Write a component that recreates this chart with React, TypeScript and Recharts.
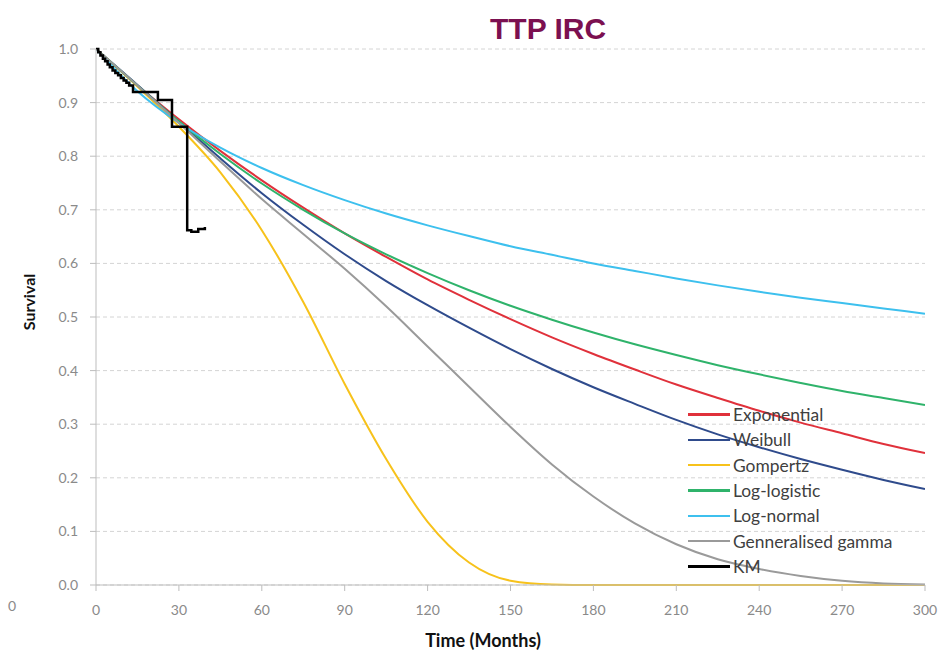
import React from 'react';
import { LineChart, Line, XAxis, YAxis, CartesianGrid } from 'recharts';

// months sampled for the fitted curves
const months = [0, 15, 30, 45, 60, 75, 90, 105, 120, 135, 150, 165, 180, 195, 210, 225, 240, 255, 270, 285, 300];

const exponential = [1, 0.932, 0.869, 0.81, 0.755, 0.704, 0.656, 0.612, 0.57, 0.532, 0.496, 0.462, 0.431, 0.402, 0.374, 0.349, 0.325, 0.303, 0.283, 0.263, 0.246];
const weibull = [1, 0.933, 0.864, 0.796, 0.731, 0.672, 0.617, 0.567, 0.522, 0.48, 0.44, 0.403, 0.369, 0.338, 0.308, 0.281, 0.257, 0.235, 0.215, 0.196, 0.179];
const gompertz = [1, 0.93, 0.855, 0.77, 0.662, 0.528, 0.375, 0.235, 0.118, 0.042, 0.008, 0.001, 0, 0, 0, 0, 0, 0, 0, 0, 0];
const logLogistic = [1, 0.932, 0.865, 0.804, 0.749, 0.7, 0.656, 0.617, 0.582, 0.55, 0.521, 0.495, 0.471, 0.449, 0.429, 0.41, 0.393, 0.377, 0.362, 0.349, 0.336];
const logNormal = [1, 0.921, 0.862, 0.816, 0.778, 0.746, 0.718, 0.693, 0.671, 0.651, 0.632, 0.616, 0.6, 0.586, 0.572, 0.559, 0.547, 0.536, 0.526, 0.516, 0.506];
const genGamma = [1, 0.932, 0.862, 0.79, 0.72, 0.655, 0.59, 0.52, 0.445, 0.37, 0.295, 0.225, 0.165, 0.115, 0.076, 0.048, 0.03, 0.017, 0.008, 0.003, 0.001];

// Kaplan-Meier steps
const kmTime = [0, 0.8, 1.6, 2.5, 3.3, 4.2, 5, 6, 7, 8, 9, 10, 11, 12, 13.4, 22.4, 27.5, 33, 34.5, 37, 39.4];
const kmSurv = [1, 0.994, 0.988, 0.982, 0.977, 0.971, 0.966, 0.96, 0.955, 0.951, 0.946, 0.941, 0.937, 0.932, 0.92, 0.905, 0.855, 0.662, 0.659, 0.664, 0.668];

const xTicks = [0, 30, 60, 90, 120, 150, 180, 210, 240, 270, 300];
const yTicks = [0, 0.1, 0.2, 0.3, 0.4, 0.5, 0.6, 0.7, 0.8, 0.9, 1.0];

const series = [
  { key: 'exp', name: 'Exponential', color: '#e0313b', values: exponential },
  { key: 'wei', name: 'Weibull', color: '#2f4b8c', values: weibull },
  { key: 'gom', name: 'Gompertz', color: '#f7c21b', values: gompertz },
  { key: 'llog', name: 'Log-logistic', color: '#2fb36b', values: logLogistic },
  { key: 'lnorm', name: 'Log-normal', color: '#3dc0ee', values: logNormal },
  { key: 'gg', name: 'Genneralised gamma', color: '#9a9a9a', values: genGamma },
];

const curveData = months.map((t, i) => {
  const row: Record<string, number> = { t };
  series.forEach(s => { row[s.key] = s.values[i]; });
  return row;
});
const kmData = kmTime.map((t, i) => ({ t, km: kmSurv[i] }));

const legendItems = [...series.map(s => ({ name: s.name, color: s.color })), { name: 'KM', color: '#000000' }];

const tickStyle = { fill: '#8a8a8a', fontSize: 14, fontFamily: 'Lato' };

export default function App() {
  return (
    <div style={{ position: 'absolute', left: 0, top: 0, width: 941, height: 653, background: '#fff', fontFamily: 'Lato' }}>
      <LineChart width={941} height={653} data={curveData} margin={{ top: 49, right: 16, left: 36, bottom: 38 }}>
        <CartesianGrid vertical={false} stroke="#d4d4d4" strokeDasharray="4 3" />
        <XAxis
          dataKey="t"
          type="number"
          domain={[0, 300]}
          ticks={xTicks}
          height={30}
          tick={tickStyle}
          tickSize={6}
          tickMargin={14}
          stroke="#bdbdbd"
          allowDataOverflow
        />
        <YAxis
          type="number"
          domain={[0, 1]}
          ticks={yTicks}
          width={60}
          tick={tickStyle}
          tickSize={6}
          tickMargin={12}
          stroke="#bdbdbd"
          tickFormatter={(v: number) => v.toFixed(1)}
        />
        {series.map(s => (
          <Line key={s.key} type="monotone" dataKey={s.key} stroke={s.color} strokeWidth={2} dot={false} isAnimationActive={false} />
        ))}
        <Line data={kmData} type="stepAfter" dataKey="km" stroke="#000" strokeWidth={2.5} dot={false} isAnimationActive={false} />
      </LineChart>

      <div style={{ position: 'absolute', left: 490, top: 12, fontFamily: 'Liberation Sans, Arial', fontWeight: 'bold', fontSize: 30, color: '#7b1050' }}>
        TTP IRC
      </div>
      <div style={{ position: 'absolute', left: 28, top: 302, transform: 'translate(-50%, -50%) rotate(-90deg)', fontWeight: 'bold', fontSize: 16, color: '#111' }}>
        Survival
      </div>
      <div style={{ position: 'absolute', left: 483, top: 640, transform: 'translate(-50%, -50%)', fontWeight: 'bold', fontSize: 18, color: '#111', whiteSpace: 'nowrap' }}>
        Time (Months)
      </div>
      <div style={{ position: 'absolute', left: 8, top: 597, fontSize: 14, color: '#8a8a8a' }}>0</div>

      <div style={{ position: 'absolute', left: 688, top: 402 }}>
        {legendItems.map(item => (
          <div key={item.name} style={{ display: 'flex', alignItems: 'center', height: 25.3 }}>
            <div style={{ width: 42, height: item.name === 'KM' ? 3 : 2.5, background: item.color }} />
            <span style={{ marginLeft: 3, fontSize: 17.4, color: '#404040', whiteSpace: 'nowrap' }}>{item.name}</span>
          </div>
        ))}
      </div>
    </div>
  );
}
